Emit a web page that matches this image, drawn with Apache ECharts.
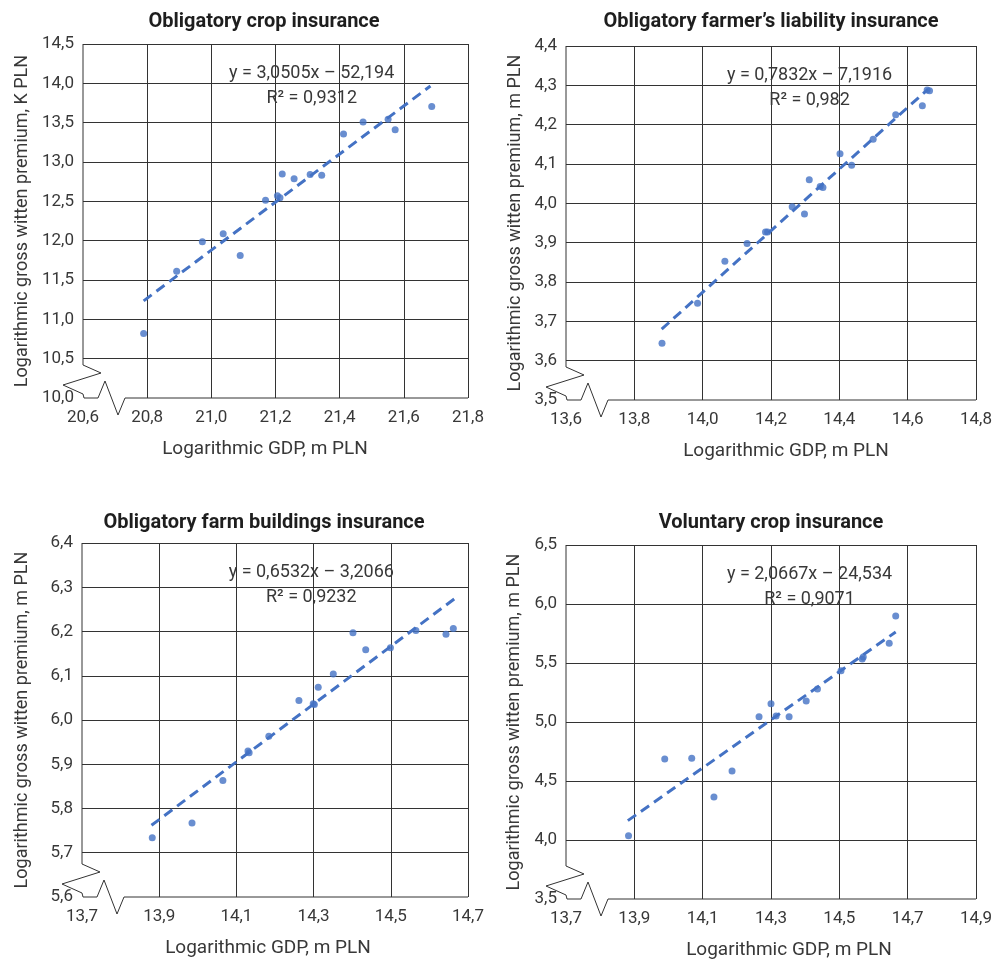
<!DOCTYPE html>
<html>
<head>
<meta charset="utf-8">
<script src="https://cdn.jsdelivr.net/npm/echarts@6/dist/echarts.min.js"></script>
<style>
  html, body { margin: 0; padding: 0; background: #fff; }
  #main { width: 995px; height: 961px; }
</style>
</head>
<body>
<div id="main"></div>
<script>
// values
const titles = ['Obligatory crop insurance', 'Obligatory farmer\u2019s liability insurance',
  'Obligatory farm buildings insurance', 'Voluntary crop insurance'];
const yNames = ['Logarithmic gross witten premium, K PLN', 'Logarithmic gross witten premium, m PLN',
  'Logarithmic gross witten premium, m PLN', 'Logarithmic gross witten premium, m PLN'];
const xName = 'Logarithmic GDP, m PLN';
const equations = ['y = 3,0505x \u2013 52,194', 'y = 0,7832x \u2013 7,1916', 'y = 0,6532x \u2013 3,2066', 'y = 2,0667x \u2013 24,534'];
const rSquared = ['R\u00b2 = 0,9312', 'R\u00b2 = 0,982', 'R\u00b2 = 0,9232', 'R\u00b2 = 0,9071'];

// Obligatory crop insurance
const cropGdp = [20.789, 20.892, 20.972, 21.037, 21.090, 21.169, 21.206, 21.214, 21.221, 21.258, 21.308, 21.344, 21.412, 21.473, 21.551, 21.573, 21.687];
const cropPrem = [10.819, 11.612, 11.985, 12.087, 11.811, 12.515, 12.570, 12.545, 12.846, 12.787, 12.842, 12.833, 13.355, 13.508, 13.542, 13.410, 13.707];
const cropTrendX = [20.789, 21.683];
const cropTrendY = [11.235, 13.966];

// Obligatory farmer's liability insurance
const liabGdp = [13.881, 13.985, 14.065, 14.130, 14.184, 14.190, 14.262, 14.298, 14.312, 14.344, 14.352, 14.402, 14.436, 14.499, 14.565, 14.643, 14.657, 14.664];
const liabPrem = [3.644, 3.746, 3.853, 3.898, 3.927, 3.927, 3.991, 3.973, 4.060, 4.043, 4.040, 4.126, 4.097, 4.163, 4.225, 4.248, 4.288, 4.286];
const liabTrendX = [13.88, 14.659];
const liabTrendY = [3.68, 4.29];

// Obligatory farm buildings insurance
const bldGdp = [13.882, 13.985, 14.065, 14.130, 14.133, 14.184, 14.262, 14.299, 14.302, 14.312, 14.351, 14.402, 14.435, 14.499, 14.565, 14.643, 14.662];
const bldPrem = [5.734, 5.767, 5.863, 5.930, 5.926, 5.963, 6.044, 6.037, 6.035, 6.074, 6.104, 6.197, 6.159, 6.163, 6.202, 6.194, 6.207];
const bldTrendX = [13.88, 14.665];
const bldTrendY = [5.762, 6.274];

// Voluntary crop insurance
const volGdp = [13.883, 13.989, 14.068, 14.133, 14.186, 14.265, 14.300, 14.315, 14.353, 14.403, 14.436, 14.505, 14.567, 14.570, 14.646, 14.665];
const volPrem = [4.037, 4.686, 4.692, 4.364, 4.585, 5.045, 5.155, 5.051, 5.045, 5.178, 5.280, 5.435, 5.534, 5.550, 5.667, 5.898];
const volTrendX = [13.881, 14.665];
const volTrendY = [4.164, 5.763];

// axis ranges [min, max, interval]
const xRanges = [[20.6, 21.8, 0.2], [13.6, 14.8, 0.2], [13.7, 14.7, 0.2], [13.7, 14.9, 0.2]];
const yRanges = [[10.0, 14.5, 0.5], [3.5, 4.4, 0.1], [5.6, 6.4, 0.1], [3.5, 6.5, 0.5]];

const points = [[cropGdp, cropPrem], [liabGdp, liabPrem], [bldGdp, bldPrem], [volGdp, volPrem]];
const trends = [[cropTrendX, cropTrendY], [liabTrendX, liabTrendY], [bldTrendX, bldTrendY], [volTrendX, volTrendY]];

const grids = [
  { left: 83, top: 44, width: 385, height: 354 },
  { left: 566, top: 46, width: 412, height: 354 },
  { left: 82, top: 543, width: 386, height: 354 },
  { left: 566, top: 545, width: 412, height: 354 }
];

const FONT = 'Roboto, "Noto Sans", sans-serif';
const TEXT = '#383838';
const LINE = '#333';
const BLUE = '#4472c4';

function pair(xs, ys) {
  return xs.map((x, i) => [x, ys[i]]);
}
function comma(v) {
  return v.toFixed(1).replace('.', ',');
}

var chartDom = document.getElementById('main');
var myChart = echarts.init(chartDom);

var xAxis = [], yAxis = [], series = [];
for (let i = 0; i < 4; i++) {
  xAxis.push({
    type: 'value', gridIndex: i,
    min: xRanges[i][0], max: xRanges[i][1], interval: xRanges[i][2],
    axisLine: { show: false }, axisTick: { show: false },
    splitLine: { show: true, showMinLine: false, lineStyle: { color: LINE, width: 1 } },
    axisLabel: { color: TEXT, fontSize: 17, fontFamily: FONT, margin: 11, formatter: comma,
      showMinLabel: true, showMaxLabel: true }
  });
  yAxis.push({
    type: 'value', gridIndex: i,
    min: yRanges[i][0], max: yRanges[i][1], interval: yRanges[i][2],
    axisLine: { show: false }, axisTick: { show: false },
    splitLine: { show: true, showMinLine: false, lineStyle: { color: LINE, width: 1 } },
    axisLabel: { color: TEXT, fontSize: 17, fontFamily: FONT, margin: 9, formatter: comma,
      showMinLabel: true, showMaxLabel: true }
  });
  series.push({
    type: 'scatter', xAxisIndex: i, yAxisIndex: i,
    data: pair(points[i][0], points[i][1]),
    symbolSize: 7, itemStyle: { color: BLUE }
  });
  series.push({
    type: 'line', xAxisIndex: i, yAxisIndex: i,
    data: pair(trends[i][0], trends[i][1]),
    symbol: 'none', silent: true,
    lineStyle: { color: BLUE, width: 3, type: [10, 6] }
  });
}

var option = {
  backgroundColor: '#fff',
  animation: false,
  grid: grids,
  xAxis: xAxis,
  yAxis: yAxis,
  series: series
};
myChart.setOption(option);

// titles, axis names, equations and the broken-axis marks
var graphic = [];
const titleX = [264, 771, 264, 771];
const titleY = [22, 22, 523, 523];
const xNameX = [265, 786, 268, 789];
const yNameX = [22, 515, 22, 514];
for (let i = 0; i < 4; i++) {
  const bl = myChart.convertToPixel({ gridIndex: i }, [xRanges[i][0], yRanges[i][0]]);
  const tr = myChart.convertToPixel({ gridIndex: i }, [xRanges[i][1], yRanges[i][1]]);
  const L = bl[0], B = bl[1], T = tr[1], R = tr[0];
  graphic.push({
    type: 'text', x: titleX[i], y: titleY[i],
    style: { text: titles[i], fill: '#1e1e1e', font: 'bold 20px ' + FONT, align: 'center', verticalAlign: 'middle' }
  });
  graphic.push({
    type: 'text', x: xNameX[i], y: B + 51,
    style: { text: xName, fill: TEXT, font: '19px ' + FONT, align: 'center', verticalAlign: 'middle' }
  });
  graphic.push({
    type: 'text', x: yNameX[i], y: (T + B) / 2, rotation: Math.PI / 2,
    style: { text: yNames[i], fill: TEXT, font: '18px ' + FONT, align: 'center', verticalAlign: 'middle' }
  });
  const eqX = L + (R - L) * 0.594;
  graphic.push({
    type: 'text', x: eqX, y: T + 29,
    style: { text: equations[i], fill: TEXT, font: '18px ' + FONT, align: 'center', verticalAlign: 'middle' }
  });
  graphic.push({
    type: 'text', x: eqX, y: T + 54,
    style: { text: rSquared[i], fill: TEXT, font: '18px ' + FONT, align: 'center', verticalAlign: 'middle' }
  });
  // left axis line, break zigzag, bottom axis line
  graphic.push({
    type: 'polyline', silent: true,
    shape: { points: [[L, T], [L, B - 33], [L + 18, B - 25], [L - 20, B - 13], [L, B - 4], [L + 1, B],
      [L + 15, B], [L + 22, B - 17], [L + 35, B + 17], [L + 42, B], [R, B]] },
    style: { stroke: LINE, lineWidth: 1, fill: null }
  });
}
myChart.setOption({ graphic: graphic });
</script>
</body>
</html>
